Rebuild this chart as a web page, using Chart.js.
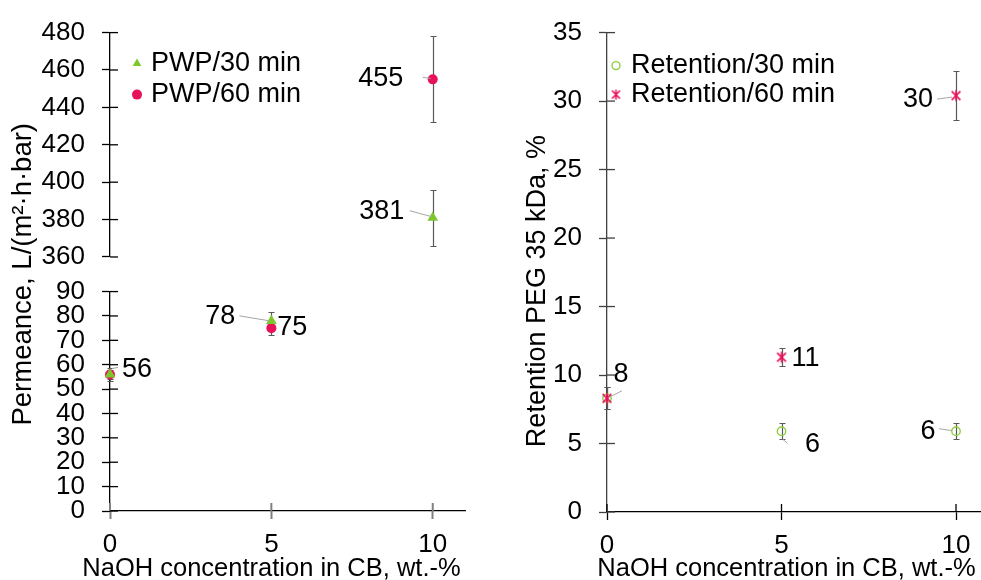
<!DOCTYPE html>
<html>
<head>
<meta charset="utf-8">
<script src="https://cdn.jsdelivr.net/npm/chart.js"></script>
<style>
  html, body { margin: 0; padding: 0; background: #ffffff; }
  #wrap { position: relative; width: 981px; height: 580px; overflow: hidden; background: #ffffff; }
  #c1 { position: absolute; left: 0; top: 0; }
  #c2 { position: absolute; left: 490px; top: 0; }
</style>
</head>
<body>
<div id="wrap">
  <canvas id="c1" width="490" height="580"></canvas>
  <canvas id="c2" width="491" height="580"></canvas>
</div>
<script>
// ---------------- DATA ----------------
const concentrations = [0, 5, 10];
const xTicks = [0, 5, 10];

const pwp30 = [56, 78, 381];
const pwp30Err = [2, 3.5, 15];
const pwp60 = [56, 75, 455];
const pwp60Err = [2.5, 3, 23];
const permLowTicks = [0, 10, 20, 30, 40, 50, 60, 70, 80, 90];
const permHighTicks = [360, 380, 400, 420, 440, 460, 480];
const permBreak = 200;

const ret30 = [8.3, 5.9, 5.9];
const ret30Err = [0.8, 0.6, 0.6];
const ret60 = [8.3, 11.3, 30.4];
const ret60Err = [0.8, 0.65, 1.8];
const retTicks = [0, 5, 10, 15, 20, 25, 30, 35];

const xTitle = 'NaOH concentration in CB, wt.-%';

// ---------------- STYLE ----------------
const GREEN = '#7cc72a';
const LGREEN = '#8ccf3f';
const PINK = '#e8125c';
const FONT = '"Liberation Sans", Arial, sans-serif';
Chart.defaults.font.family = FONT;
Chart.defaults.color = '#000';

function asteriskImage(color, size) {
  const c = document.createElement('canvas');
  c.width = size; c.height = size;
  const g = c.getContext('2d');
  const h = size / 2, r = h - 1.5, d = r * 0.8;
  g.strokeStyle = color; g.lineWidth = 1.6;
  g.beginPath();
  g.moveTo(h - d, h - d); g.lineTo(h + d, h + d);
  g.moveTo(h + d, h - d); g.lineTo(h - d, h + d);
  g.moveTo(h, h - r); g.lineTo(h, h + r);
  g.stroke();
  return c;
}
const ASTER = asteriskImage(PINK, 14);
const ASTER_LEG = asteriskImage(PINK, 13);

// ---------------- PLUGINS ----------------
const errorBars = {
  id: 'errorBars',
  beforeDatasetsDraw(chart, args, opts) {
    const ctx = chart.ctx;
    ctx.save();
    ctx.strokeStyle = opts.color || '#595959';
    ctx.lineWidth = opts.width || 1.2;
    const cap = opts.cap || 3;
    chart.data.datasets.forEach((ds, i) => {
      const meta = chart.getDatasetMeta(i);
      const xs = chart.scales[meta.xAxisID], ys = chart.scales[meta.yAxisID];
      ds.data.forEach(p => {
        const x = Math.round(xs.getPixelForValue(p.x)) + 0.5;
        const y1 = Math.round(ys.getPixelForValue(p.y + p.e)) + 0.5;
        const y2 = Math.round(ys.getPixelForValue(p.y - p.e)) + 0.5;
        ctx.beginPath();
        ctx.moveTo(x, y1); ctx.lineTo(x, y2);
        ctx.moveTo(x - cap, y1); ctx.lineTo(x + cap, y1);
        ctx.moveTo(x - cap, y2); ctx.lineTo(x + cap, y2);
        ctx.stroke();
      });
    });
    ctx.restore();
  }
};

const crossTicks = {
  id: 'crossTicks',
  beforeDatasetsDraw(chart, args, opts) {
    const ctx = chart.ctx;
    ctx.save();
    (opts.scales || []).forEach(id => {
      const s = chart.scales[id];
      if (!s) return;
      ctx.strokeStyle = s.options.grid.tickColor;
      ctx.lineWidth = s.options.grid.tickWidth;
      const len = s.options.grid.tickLength;
      s.ticks.forEach(t => {
        const p = s.getPixelForValue(t.value);
        ctx.beginPath();
        if (s.isHorizontal()) { ctx.moveTo(p, s.top); ctx.lineTo(p, s.top - len); }
        else { ctx.moveTo(s.right, p); ctx.lineTo(s.right + len, p); }
        ctx.stroke();
      });
    });
    ctx.restore();
  }
};

const xAxisTitle = {
  id: 'xAxisTitle',
  afterDraw(chart, args, opts) {
    const s = chart.scales.x;
    const ctx = chart.ctx;
    ctx.save();
    ctx.fillStyle = '#000';
    ctx.font = opts.fontSize + 'px ' + FONT;
    ctx.textAlign = 'center';
    ctx.textBaseline = 'middle';
    ctx.fillText(opts.text, (s.left + s.right) / 2 + opts.dx, s.bottom - opts.up);
    ctx.restore();
  }
};

function findPoint(chart, series, index) {
  for (let i = 0; i < chart.data.datasets.length; i++) {
    const ds = chart.data.datasets[i];
    if (ds.series !== series) continue;
    const p = ds.data.find(q => q.i === index);
    if (p) {
      const meta = chart.getDatasetMeta(i);
      return { p, x: chart.scales[meta.xAxisID].getPixelForValue(p.x), y: chart.scales[meta.yAxisID].getPixelForValue(p.y) };
    }
  }
  return null;
}

const valueLabels = {
  id: 'valueLabels',
  afterDatasetsDraw(chart, args, opts) {
    const ctx = chart.ctx;
    ctx.save();
    (opts.items || []).forEach(L => {
      const pt = findPoint(chart, L.series, L.index);
      if (!pt) return;
      if (L.leader) {
        ctx.strokeStyle = '#a6a6a6'; ctx.lineWidth = 1;
        ctx.beginPath();
        ctx.moveTo(pt.x + L.leader[0], pt.y + L.leader[1]);
        ctx.lineTo(pt.x + L.leader[2], pt.y + L.leader[3]);
        ctx.stroke();
      }
      ctx.fillStyle = '#000';
      ctx.font = opts.fontSize + 'px ' + FONT;
      ctx.textAlign = 'center';
      ctx.textBaseline = 'middle';
      ctx.fillText(String(Math.round(pt.p.y)), pt.x + L.dx, pt.y + L.dy);
    });
    ctx.restore();
  }
};

function drawMarker(ctx, ds, r, x, y) {
  const st = ds.pointStyle;
  if (st instanceof HTMLCanvasElement) {
    const img = st === ASTER ? ASTER_LEG : st;
    ctx.drawImage(img, x - img.width / 2, y - img.height / 2);
    return;
  }
  ctx.beginPath();
  if (st === 'triangle') {
    for (let k = 0; k < 3; k++) {
      const a = k * 2 * Math.PI / 3;
      const px = x + Math.sin(a) * r, py = y - Math.cos(a) * r;
      k ? ctx.lineTo(px, py) : ctx.moveTo(px, py);
    }
    ctx.closePath();
  } else {
    ctx.arc(x, y, r, 0, Math.PI * 2);
  }
  if (ds.backgroundColor && ds.backgroundColor !== 'transparent') { ctx.fillStyle = ds.backgroundColor; ctx.fill(); }
  if (ds.borderWidth) { ctx.strokeStyle = ds.borderColor; ctx.lineWidth = ds.borderWidth; ctx.stroke(); }
}

const innerLegend = {
  id: 'innerLegend',
  afterDatasetsDraw(chart, args, opts) {
    const ctx = chart.ctx;
    const a = chart.chartArea;
    const seen = [];
    chart.data.datasets.forEach(ds => { if (!seen.find(d => d.series === ds.series)) seen.push(ds); });
    seen.sort((p, q) => p.legendOrder - q.legendOrder);
    ctx.save();
    seen.forEach((ds, k) => {
      const x = a.left + opts.dx, y = a.top + opts.dy + k * opts.row;
      drawMarker(ctx, ds, opts.radius, x, y);
      ctx.fillStyle = '#000';
      ctx.font = opts.fontSize + 'px ' + FONT;
      ctx.textAlign = 'left';
      ctx.textBaseline = 'middle';
      ctx.fillText(ds.label, x + opts.gap, y);
    });
    ctx.restore();
  }
};

// ---------------- HELPERS ----------------
function points(xs, ys, es) { return xs.map((x, i) => ({ x, y: ys[i], e: es[i], i })); }
function splitByBreak(key, label, pts, style) {
  const low = pts.filter(p => p.y <= permBreak), high = pts.filter(p => p.y > permBreak);
  const out = [];
  if (low.length) out.push(Object.assign({}, style, { series: key, label, data: low, yAxisID: 'yLow' }));
  if (high.length) out.push(Object.assign({}, style, { series: key, label, data: high, yAxisID: 'yHigh' }));
  return out;
}
const tickFrom = arr => s => { s.ticks = arr.map(v => ({ value: v })); };

const axisTicks = { font: { size: 26 }, color: '#000', autoSkip: false, maxRotation: 0 };
const yGrid = { display: true, drawOnChartArea: false, drawTicks: true, tickLength: 8, tickColor: '#000', tickWidth: 1.3 };
const yBorder = { display: true, color: '#000', width: 1.3 };

// ---------------- LEFT CHART ----------------
const style30 = { pointStyle: 'triangle', pointRadius: 6.2, backgroundColor: GREEN, borderColor: GREEN, borderWidth: 0, order: 0, legendOrder: 0, showLine: false, clip: false };
const style60 = { pointStyle: 'circle', pointRadius: 5, backgroundColor: PINK, borderColor: PINK, borderWidth: 0, order: 1, legendOrder: 1, showLine: false, clip: false };

new Chart(document.getElementById('c1'), {
  type: 'scatter',
  data: {
    datasets: [
      ...splitByBreak('pwp30', 'PWP/30 min', points(concentrations, pwp30, pwp30Err), style30),
      ...splitByBreak('pwp60', 'PWP/60 min', points(concentrations, pwp60, pwp60Err), style60)
    ]
  },
  options: {
    responsive: false, animation: false, events: [], devicePixelRatio: 1,
    layout: { autoPadding: false, padding: { top: 27, right: 25, bottom: 0, left: 0 } },
    scales: {
      x: {
        type: 'linear', position: 'bottom', min: 0, max: 11,
        afterBuildTicks: tickFrom(xTicks),
        afterFit: s => { s.height = 69; s.paddingLeft = 0; s.paddingRight = 0; },
        grid: { display: true, drawOnChartArea: false, drawTicks: true, tickLength: 8, tickColor: '#7f7f7f', tickWidth: 2 },
        border: { display: true, color: '#000', width: 1.3 },
        ticks: Object.assign({}, axisTicks, { padding: 10 })
      },
      yLow: {
        type: 'linear', position: 'left', stack: 'perm', stackWeight: 222, weight: 0, min: 0, max: 90,
        afterBuildTicks: tickFrom(permLowTicks),
        afterFit: s => { s.width = 110; },
        grid: yGrid, border: yBorder,
        ticks: Object.assign({}, axisTicks, { padding: 17 })
      },
      yGap: {
        type: 'linear', position: 'left', stack: 'perm', stackWeight: 35, weight: 1, min: 0, max: 1,
        afterFit: s => { s.width = 110; },
        grid: { display: false }, border: { display: false },
        ticks: { display: false },
        title: { display: true, text: 'Permeance, L/(m²·h·bar)', font: { size: 27.5 }, padding: { top: 7, bottom: 0 }, color: '#000' }
      },
      yHigh: {
        type: 'linear', position: 'left', stack: 'perm', stackWeight: 227, weight: 2, min: 360, max: 480,
        afterBuildTicks: tickFrom(permHighTicks),
        afterFit: s => { s.width = 110; },
        grid: yGrid, border: yBorder,
        ticks: Object.assign({}, axisTicks, { padding: 17 })
      }
    },
    plugins: {
      legend: { display: false }, tooltip: { enabled: false },
      errorBars: { color: '#595959', width: 1.2, cap: 3 },
      crossTicks: { scales: ['x', 'yLow', 'yHigh'] },
      xAxisTitle: { text: xTitle, fontSize: 25.5, dx: -16, up: 11 },
      innerLegend: { dx: 27, dy: 31, row: 31, gap: 14, radius: 5, fontSize: 27 },
      valueLabels: {
        fontSize: 27,
        items: [
          { series: 'pwp60', index: 2, dx: -52, dy: -1, leader: [-10, -2, -2, -1] },
          { series: 'pwp30', index: 2, dx: -51, dy: -6, leader: [-23, -7, -1, -1] },
          { series: 'pwp30', index: 1, dx: -51, dy: -4, leader: [-32, -5, -2, 0] },
          { series: 'pwp60', index: 1, dx: 21, dy: -1 },
          { series: 'pwp30', index: 0, dx: 27, dy: -5, leader: [2, -6, 8, -7] }
        ]
      }
    }
  },
  plugins: [errorBars, crossTicks, valueLabels, innerLegend, xAxisTitle]
});

// ---------------- RIGHT CHART ----------------
const styleR30 = { pointStyle: 'circle', pointRadius: 4.2, backgroundColor: 'transparent', borderColor: LGREEN, borderWidth: 1.4, pointBorderWidth: 1.4, order: 1, legendOrder: 0, showLine: false, clip: false };
const styleR60 = { pointStyle: ASTER, pointRadius: 6, backgroundColor: PINK, borderColor: PINK, borderWidth: 0, order: 0, legendOrder: 1, showLine: false, clip: false };

new Chart(document.getElementById('c2'), {
  type: 'scatter',
  data: {
    datasets: [
      Object.assign({}, styleR30, { series: 'ret30', label: 'Retention/30 min', data: points(concentrations, ret30, ret30Err), yAxisID: 'y' }),
      Object.assign({}, styleR60, { series: 'ret60', label: 'Retention/60 min', data: points(concentrations, ret60, ret60Err), yAxisID: 'y' })
    ]
  },
  options: {
    responsive: false, animation: false, events: [], devicePixelRatio: 1,
    layout: { autoPadding: false, padding: { top: 29, right: 0, bottom: 0, left: 0 } },
    scales: {
      x: {
        type: 'linear', position: 'bottom', min: 0, max: 10.716,
        afterBuildTicks: tickFrom(xTicks),
        afterFit: s => { s.height = 68; s.paddingLeft = 0; s.paddingRight = 0; },
        grid: { display: true, drawOnChartArea: false, drawTicks: true, tickLength: 8, tickColor: '#000', tickWidth: 1.3 },
        border: { display: true, color: '#000', width: 1.3 },
        ticks: Object.assign({}, axisTicks, { padding: 10 })
      },
      y: {
        type: 'linear', position: 'left', min: 0, max: 35,
        afterBuildTicks: tickFrom(retTicks),
        afterFit: s => { s.width = 117; },
        grid: { display: true, drawOnChartArea: false, drawTicks: true, tickLength: 8, tickColor: '#404040', tickWidth: 1.3 },
        border: { display: true, color: '#404040', width: 1.3 },
        ticks: Object.assign({}, axisTicks, { padding: 17 }),
        title: { display: true, text: 'Retention PEG 35 kDa, %     ', font: { size: 27 }, padding: { top: 31, bottom: 0 }, color: '#000' }
      }
    },
    plugins: {
      legend: { display: false }, tooltip: { enabled: false },
      errorBars: { color: '#595959', width: 1.2, cap: 3 },
      crossTicks: { scales: ['x', 'y'] },
      xAxisTitle: { text: xTitle, fontSize: 25.5, dx: -7.5, up: 11 },
      innerLegend: { dx: 9, dy: 33, row: 29, gap: 15, radius: 4, fontSize: 27 },
      valueLabels: {
        fontSize: 27,
        items: [
          { series: 'ret60', index: 2, dx: -38, dy: 4, leader: [-19, 3.5, -4, 1.5] },
          { series: 'ret60', index: 1, dx: 24, dy: 1 },
          { series: 'ret30', index: 0, dx: 14, dy: -24, leader: [15, -7.5, 3, -1.5] },
          { series: 'ret30', index: 1, dx: 31, dy: 13, leader: [1, 8, 6, 12] },
          { series: 'ret30', index: 2, dx: -28, dy: 0, leader: [-17, -2.5, -4, -0.5] }
        ]
      }
    }
  },
  plugins: [errorBars, crossTicks, valueLabels, innerLegend, xAxisTitle]
});
</script>
</body>
</html>
